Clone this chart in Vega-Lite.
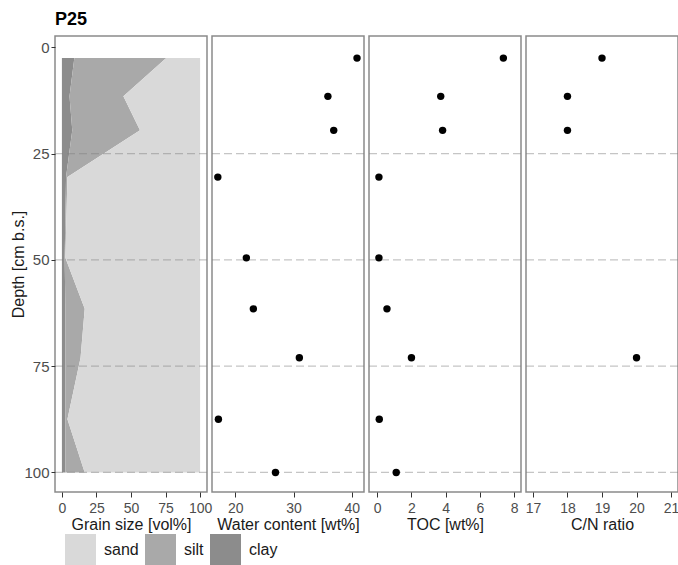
{
  "$schema": "https://vega.github.io/schema/vega-lite/v6.json",
  "padding": {"left": 10, "top": 11, "right": 0, "bottom": 0},
  "bounds": "flush",
  "title": {"text": "P25", "anchor": "start", "frame": "group", "fontSize": 18, "fontWeight": "bold", "color": "#000000", "offset": 6},
  "datasets": {
    "grain": [
      {"depth": 2.5, "fraction": "clay", "ord": 1, "pct": 9},
      {"depth": 11.5, "fraction": "clay", "ord": 1, "pct": 5.5},
      {"depth": 19.5, "fraction": "clay", "ord": 1, "pct": 7.5},
      {"depth": 30.5, "fraction": "clay", "ord": 1, "pct": 3},
      {"depth": 49.5, "fraction": "clay", "ord": 1, "pct": 2},
      {"depth": 61.5, "fraction": "clay", "ord": 1, "pct": 2.5},
      {"depth": 73, "fraction": "clay", "ord": 1, "pct": 2.5},
      {"depth": 87.5, "fraction": "clay", "ord": 1, "pct": 2.5},
      {"depth": 100, "fraction": "clay", "ord": 1, "pct": 2.5},
      {"depth": 2.5, "fraction": "silt", "ord": 2, "pct": 66.5},
      {"depth": 11.5, "fraction": "silt", "ord": 2, "pct": 39},
      {"depth": 19.5, "fraction": "silt", "ord": 2, "pct": 49},
      {"depth": 30.5, "fraction": "silt", "ord": 2, "pct": 1},
      {"depth": 49.5, "fraction": "silt", "ord": 2, "pct": 0.5},
      {"depth": 61.5, "fraction": "silt", "ord": 2, "pct": 14},
      {"depth": 73, "fraction": "silt", "ord": 2, "pct": 11},
      {"depth": 87.5, "fraction": "silt", "ord": 2, "pct": 1.5},
      {"depth": 100, "fraction": "silt", "ord": 2, "pct": 14},
      {"depth": 2.5, "fraction": "sand", "ord": 3, "pct": 24.5},
      {"depth": 11.5, "fraction": "sand", "ord": 3, "pct": 55.5},
      {"depth": 19.5, "fraction": "sand", "ord": 3, "pct": 43.5},
      {"depth": 30.5, "fraction": "sand", "ord": 3, "pct": 96},
      {"depth": 49.5, "fraction": "sand", "ord": 3, "pct": 97.5},
      {"depth": 61.5, "fraction": "sand", "ord": 3, "pct": 83.5},
      {"depth": 73, "fraction": "sand", "ord": 3, "pct": 86.5},
      {"depth": 87.5, "fraction": "sand", "ord": 3, "pct": 96},
      {"depth": 100, "fraction": "sand", "ord": 3, "pct": 83.5}
    ],
    "samples": [
      {"depth": 2.5, "water": 40.9, "toc": 7.37},
      {"depth": 11.5, "water": 35.9, "toc": 3.71},
      {"depth": 19.5, "water": 36.9, "toc": 3.82},
      {"depth": 30.5, "water": 17.0, "toc": 0.1},
      {"depth": 49.5, "water": 21.9, "toc": 0.1},
      {"depth": 61.5, "water": 23.1, "toc": 0.57},
      {"depth": 73, "water": 31.0, "toc": 2.0},
      {"depth": 87.5, "water": 17.1, "toc": 0.12},
      {"depth": 100, "water": 26.9, "toc": 1.11}
    ],
    "cn": [
      {"depth": 2.5, "cn": 19},
      {"depth": 11.5, "cn": 18},
      {"depth": 19.5, "cn": 18},
      {"depth": 73, "cn": 20}
    ],
    "dashes": [
      {"depth": 25}, {"depth": 50}, {"depth": 75}, {"depth": 100}
    ]
  },
  "spacing": 5,
  "hconcat": [
    {
      "width": 152, "height": 456,
      "layer": [
        {
          "data": {"name": "grain"},
          "mark": {"type": "area", "orient": "horizontal", "opacity": 1},
          "encoding": {
            "y": {"field": "depth", "type": "quantitative", "scale": {"domain": [-2.7, 104.6], "reverse": true, "nice": false, "zero": false}, "axis": {"title": "Depth [cm b.s.]", "values": [0, 25, 50, 75, 100], "titlePadding": -3, "labelPadding": 2, "tickSize": 4, "labelFontSize": 15}},
            "x": {"field": "pct", "type": "quantitative", "stack": "zero", "scale": {"domain": [-5, 105], "nice": false}, "axis": {"title": "Grain size [vol%]", "values": [0, 25, 50, 75, 100]}},
            "color": {"field": "fraction", "type": "nominal", "scale": {"domain": ["sand", "silt", "clay"], "range": ["#d9d9d9", "#a9a9a9", "#8c8c8c"]}, "legend": {"title": null, "symbolType": "square"}},
            "order": {"field": "ord", "type": "quantitative"}
          }
        },
        {
          "data": {"name": "dashes"},
          "mark": {"type": "rule", "color": "#7f7f7f", "opacity": 0.45, "strokeDash": [8, 4], "strokeWidth": 1.2},
          "encoding": {"y": {"field": "depth", "type": "quantitative"}}
        }
      ]
    },
    {
      "width": 152, "height": 456,
      "layer": [
        {
          "data": {"name": "dashes"},
          "mark": {"type": "rule", "color": "#7f7f7f", "opacity": 0.45, "strokeDash": [8, 4], "strokeWidth": 1.2},
          "encoding": {"y": {"field": "depth", "type": "quantitative", "scale": {"domain": [-2.7, 104.6], "reverse": true, "nice": false, "zero": false}, "axis": null}}
        },
        {
          "data": {"name": "samples"},
          "mark": {"type": "point", "filled": true, "color": "#000000", "opacity": 1, "size": 55},
          "encoding": {
            "y": {"field": "depth", "type": "quantitative"},
            "x": {"field": "water", "type": "quantitative", "scale": {"domain": [16, 42.1], "nice": false, "zero": false}, "axis": {"title": "Water content [wt%]", "values": [20, 30, 40]}}
          }
        }
      ]
    },
    {
      "width": 152, "height": 456,
      "layer": [
        {
          "data": {"name": "dashes"},
          "mark": {"type": "rule", "color": "#7f7f7f", "opacity": 0.45, "strokeDash": [8, 4], "strokeWidth": 1.2},
          "encoding": {"y": {"field": "depth", "type": "quantitative", "scale": {"domain": [-2.7, 104.6], "reverse": true, "nice": false, "zero": false}, "axis": null}}
        },
        {
          "data": {"name": "samples"},
          "mark": {"type": "point", "filled": true, "color": "#000000", "opacity": 1, "size": 55},
          "encoding": {
            "y": {"field": "depth", "type": "quantitative"},
            "x": {"field": "toc", "type": "quantitative", "scale": {"domain": [-0.48, 8.4], "nice": false, "zero": false}, "axis": {"title": "TOC [wt%]", "values": [0, 2, 4, 6, 8]}}
          }
        }
      ]
    },
    {
      "width": 152, "height": 456,
      "layer": [
        {
          "data": {"name": "dashes"},
          "mark": {"type": "rule", "color": "#7f7f7f", "opacity": 0.45, "strokeDash": [8, 4], "strokeWidth": 1.2},
          "encoding": {"y": {"field": "depth", "type": "quantitative", "scale": {"domain": [-2.7, 104.6], "reverse": true, "nice": false, "zero": false}, "axis": null}}
        },
        {
          "data": {"name": "cn"},
          "mark": {"type": "point", "filled": true, "color": "#000000", "opacity": 1, "size": 55},
          "encoding": {
            "y": {"field": "depth", "type": "quantitative"},
            "x": {"field": "cn", "type": "quantitative", "scale": {"domain": [16.8, 21.2], "nice": false, "zero": false}, "axis": {"title": "C/N ratio", "values": [17, 18, 19, 20, 21]}}
          }
        }
      ]
    }
  ],
  "config": {
    "font": "Liberation Sans",
    "view": {"stroke": "#8a8a8a", "strokeWidth": 1.5},
    "axis": {"labelFontSize": 14, "labelColor": "#4d4d4d", "titleFontSize": 16, "titleFontWeight": "normal", "titleColor": "#1a1a1a", "grid": false, "domain": false, "tickColor": "#333333", "tickSize": 5, "labelPadding": 4, "titlePadding": 1},
    "legend": {"orient": "bottom", "direction": "horizontal", "symbolType": "square", "symbolSize": 960, "symbolStrokeWidth": 0, "symbolOpacity": 1, "labelFontSize": 16, "labelColor": "#1a1a1a", "labelOffset": 8, "columnPadding": 6, "offset": -9, "padding": 10}
  }
}
